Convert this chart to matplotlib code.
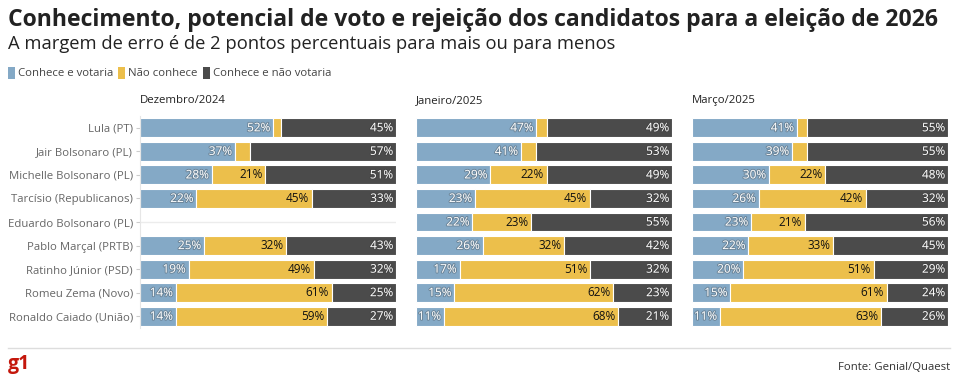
import matplotlib.pyplot as plt
import matplotlib.patheffects as pe

plt.rcParams['font.family'] = ['Open Sans', 'DejaVu Sans']

candidatos = ['Lula (PT)', 'Jair Bolsonaro (PL)', 'Michelle Bolsonaro (PL)',
              'Tarcísio (Republicanos)', 'Eduardo Bolsonaro (PL)', 'Pablo Marçal (PRTB)',
              'Ratinho Júnior (PSD)', 'Romeu Zema (Novo)', 'Ronaldo Caiado (União)']
periodos = ['Dezembro/2024', 'Janeiro/2025', 'Março/2025']
series = ['Conhece e votaria', 'Não conhece', 'Conhece e não votaria']

# None = candidato não pesquisado
votaria = [
    [52, 37, 28, 22, None, 25, 19, 14, 14],
    [47, 41, 29, 23, 22, 26, 17, 15, 11],
    [41, 39, 30, 26, 23, 22, 20, 15, 11],
]
nao_conhece = [
    [3, 6, 21, 45, None, 32, 49, 61, 59],
    [4, 6, 22, 45, 23, 32, 51, 62, 68],
    [4, 6, 22, 42, 21, 33, 51, 61, 63],
]
nao_votaria = [
    [45, 57, 51, 33, None, 43, 32, 25, 27],
    [49, 53, 49, 32, 55, 42, 32, 23, 21],
    [55, 55, 48, 32, 56, 45, 29, 24, 26],
]

cores = ['#84a9c6', '#ecbf4b', '#4b4b4b']
cor_texto = ['white', '#111111', 'white']

W, H = 960, 390
fig = plt.figure(figsize=(W / 100, H / 100), dpi=100)

fig.text(8 / W, 1 - 20 / H, 'Conhecimento, potencial de voto e rejeição dos candidatos para a eleição de 2026',
         fontsize=16.6, fontweight='bold', color='#222222', va='center', ha='left')
fig.text(8 / W, 1 - 44 / H, 'A margem de erro é de 2 pontos percentuais para mais ou para menos',
         fontsize=13.2, color='#222222', va='center', ha='left')

# legenda
lx = 8
for s, c in zip(series, cores):
    fig.patches.append(plt.Rectangle((lx / W, 1 - 79 / H), 7 / W, 12 / H, transform=fig.transFigure,
                                     facecolor=c, edgecolor='none'))
    t = fig.text((lx + 10) / W, 1 - 73 / H, s, fontsize=8.2, color='#444444', va='center', ha='left')
    fig.canvas.draw()
    bb = t.get_window_extent()
    lx = bb.x1 + 5

lefts = [140, 416, 692]
top, bottom = 116, 328
sombra = [pe.withStroke(linewidth=1.4, foreground='#333333', alpha=0.3)]

for k, periodo in enumerate(periodos):
    ax = fig.add_axes([lefts[k] / W, 1 - bottom / H, 256 / W, (bottom - top) / H])
    n = len(candidatos)
    ax.set_xlim(0, 100)
    ax.set_ylim(n - 0.5, -0.5)
    fig.text((lefts[k]) / W, 1 - 103 / H, periodo, fontsize=8.2, color='#222222', va='baseline', ha='left')
    for i in range(n):
        vals = [votaria[k][i], nao_conhece[k][i], nao_votaria[k][i]]
        if vals[0] is None:
            ax.plot([0, 100], [i, i], color='#ececec', lw=1, zorder=0)
            continue
        left = 0
        for j, v in enumerate(vals):
            ax.barh(i, v, left=left, height=0.8, color=cores[j], edgecolor='white', linewidth=0.8)
            if v >= 10:
                txt = ax.annotate(f'{v}%', (left + v, i), xytext=(-2, 0), textcoords='offset points',
                                  ha='right', va='center', fontsize=8.5, color=cor_texto[j])
                if j != 1:
                    txt.set_path_effects(sombra)
            left += v
    for sp in ax.spines.values():
        sp.set_visible(False)
    ax.set_xticks([])
    if k == 0:
        ax.spines['left'].set_visible(True)
        ax.spines['left'].set_color('#e6e6e6')
        ax.set_yticks(range(n))
        ax.set_yticklabels(candidatos, fontsize=8.2, color='#666666')
        ax.tick_params(axis='y', length=3, color='#cccccc', pad=2)
    else:
        ax.set_yticks([])

# rodapé
fig.add_artist(plt.Line2D([8 / W, 950 / W], [1 - 348 / H, 1 - 348 / H], color='#dddddd', lw=1))
fig.text(8 / W, 1 - 364 / H, 'g1', fontsize=14, fontweight='bold', color='#c4170c', va='center', ha='left')
fig.text(950 / W, 1 - 368 / H, 'Fonte: Genial/Quaest', fontsize=8.2, color='#333333', va='center', ha='right')

fig.savefig('out.png', dpi=100)
